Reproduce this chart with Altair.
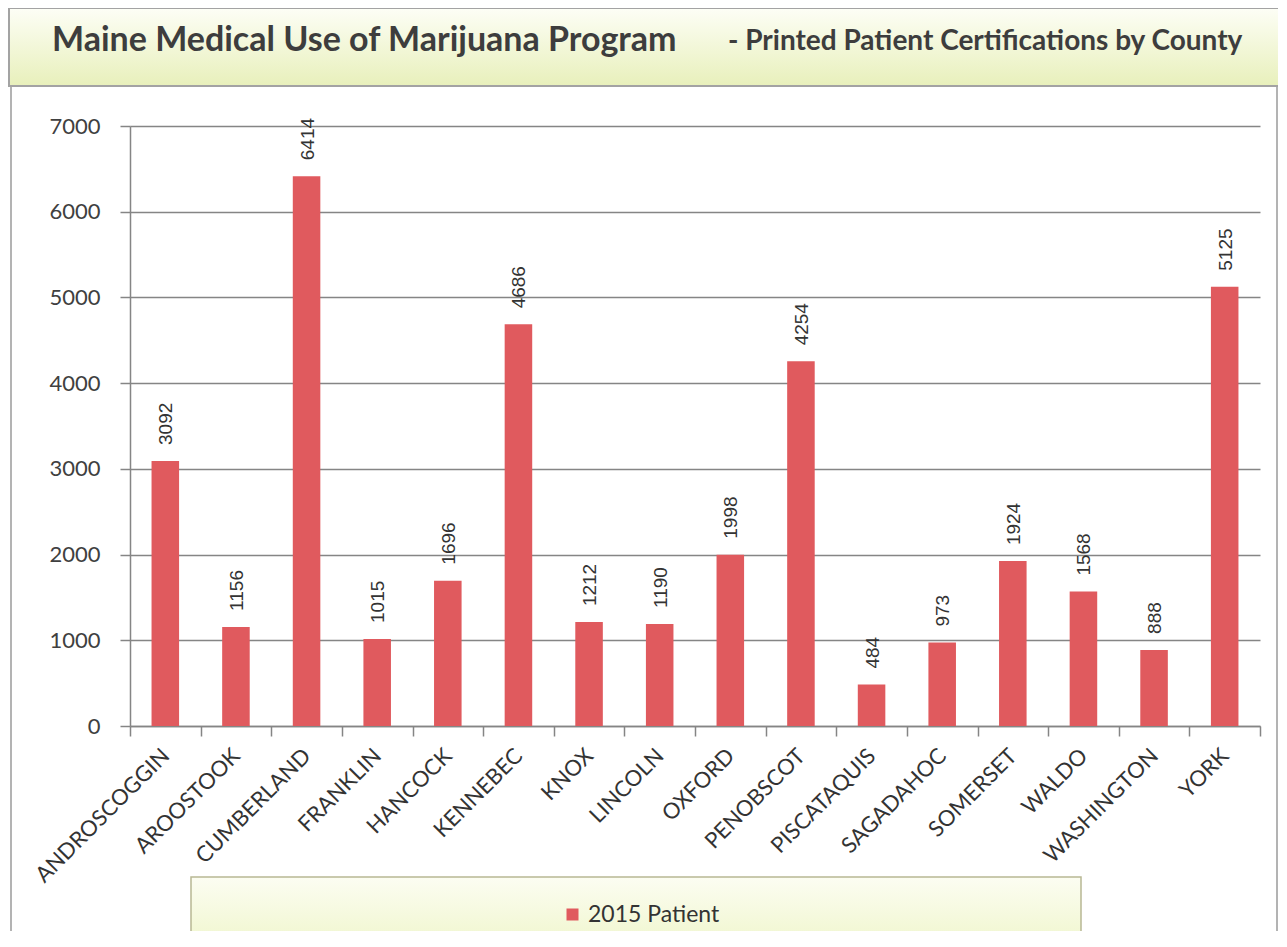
import altair as alt
import pandas as pd

counties = ["ANDROSCOGGIN", "AROOSTOOK", "CUMBERLAND", "FRANKLIN", "HANCOCK",
            "KENNEBEC", "KNOX", "LINCOLN", "OXFORD", "PENOBSCOT", "PISCATAQUIS",
            "SAGADAHOC", "SOMERSET", "WALDO", "WASHINGTON", "YORK"]
patients = [3092, 1156, 6414, 1015, 1696, 4686, 1212, 1190, 1998, 4254, 484,
            973, 1924, 1568, 888, 5125]
series_name = "2015 Patient"
title_main = "Maine Medical Use of Marijuana Program"
title_sub = "- Printed Patient Certifications by County"
y_ticks = [0, 1000, 2000, 3000, 4000, 5000, 6000, 7000]

df = pd.DataFrame({"county": counties, "patients": patients,
                   "series": [series_name] * len(counties)})
one = pd.DataFrame({"k": [0]})

BAR = "#e05a5e"
GRID = "#858585"

def grad(top, bottom):
    return {"gradient": "linear", "x1": 0, "x2": 0, "y1": 0, "y2": 1,
            "stops": [{"offset": 0, "color": top}, {"offset": 1, "color": bottom}]}

x = alt.X("county:N", sort=counties,
          scale=alt.Scale(paddingInner=0, paddingOuter=0),
          axis=alt.Axis(title=None, labelAngle=-45, labelAlign="right",
                        labelBaseline="middle", labelFont="Lato", labelFontSize=22,
                        labelColor="#333333", labelPadding=16, tickBand="extent",
                        ticks=True, tickSize=10, tickColor=GRID, tickWidth=1.5,
                        domainColor=GRID, domainWidth=1.5, grid=False))
y = alt.Y("patients:Q", scale=alt.Scale(domain=[0, 7000], nice=False),
          axis=alt.Axis(title=None, values=y_ticks, format="d", grid=True,
                        gridColor=GRID, gridWidth=1.5, tickSize=10, tickColor=GRID,
                        tickWidth=1.5, domainColor=GRID, domainWidth=1.5,
                        labelFont="Lato", labelFontSize=22, labelColor="#404040",
                        labelPadding=20))

frame = alt.Chart(one).mark_rect(fillOpacity=0, stroke="#9a9a9a", strokeWidth=1.5).encode(
    x=alt.value(-119), x2=alt.value(1147), y=alt.value(-40), y2=alt.value(830))
title_box = alt.Chart(one).mark_rect(fill=grad("#fdfef6", "#e8f0bb"), stroke="#a3a3a3",
                                     strokeWidth=2).encode(
    x=alt.value(-121), x2=alt.value(1150), y=alt.value(-118), y2=alt.value(-40))
legend_box = alt.Chart(one).mark_rect(fill=grad("#fcfdf2", "#eef5c8"), stroke="#b8b894",
                                      strokeWidth=1.5).encode(
    x=alt.value(61), x2=alt.value(951), y=alt.value(751), y2=alt.value(830))

bars = alt.Chart(df).mark_bar(width=alt.RelativeBandSize(band=0.39)).encode(
    x=x, y=y,
    color=alt.Color("series:N", scale=alt.Scale(range=[BAR]),
                    legend=alt.Legend(title=None, orient="none", legendX=431,
                                      legendY=777, padding=0, symbolType="square",
                                      symbolSize=144, symbolStrokeWidth=0,
                                      labelFont="Lato", labelFontSize=23,
                                      labelColor="#333333", labelOffset=4)))
labels = alt.Chart(df).mark_text(angle=270, align="left", baseline="middle", dx=16,
                                 dy=1, font="Liberation Sans", fontSize=19,
                                 color="#333333").encode(
    x=x, y=y, text=alt.Text("patients:Q", format="d"))

t1 = alt.Chart(one).mark_text(text=title_main, align="left", baseline="alphabetic",
                              font="Lato", fontWeight="bold", fontSize=34,
                              color="#3d3d3d").encode(x=alt.value(-78), y=alt.value(-75))
t2 = alt.Chart(one).mark_text(text=title_sub, align="left", baseline="alphabetic",
                              font="Lato", fontWeight="bold", fontSize=28,
                              color="#3d3d3d").encode(x=alt.value(598), y=alt.value(-76))

chart = alt.layer(frame, title_box, legend_box, bars, labels, t1, t2).properties(
    width=1130, height=600,
    autosize=alt.AutoSizeParams(type="none"),
    padding={"left": 122, "top": 118, "right": 18, "bottom": 205},
    background="white",
).configure_view(stroke=None)

chart.save("out.html", embed_options={"renderer": "svg", "actions": False})
